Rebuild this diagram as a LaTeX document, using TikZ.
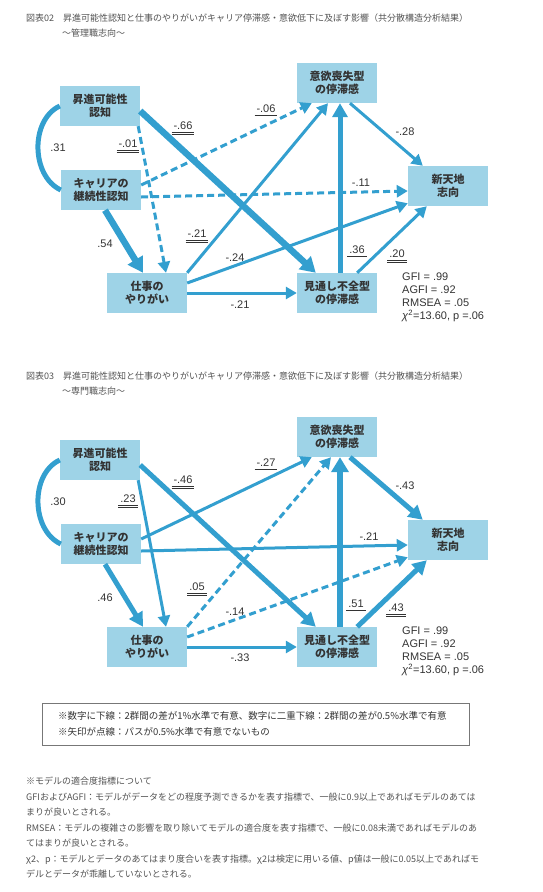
\documentclass[tikz,border=0pt]{standalone}
\usepackage{fontspec}
\setmainfont{Liberation Sans}
\newfontfamily\jp{Noto Sans CJK JP}
\usetikzlibrary{arrows.meta,calc}
\definecolor{SEMBox}{HTML}{9ED3E7}
\definecolor{SEMPath}{HTML}{339FCF}
\definecolor{SEMText}{HTML}{333333}
\definecolor{SEMRule}{HTML}{777777}
\newcommand\ulnum[1]{\underline{\kern2pt#1\vrule width 0pt depth 1.5pt\kern2pt}}
\newcommand\dulnum[1]{\underline{\underline{\kern2pt#1\vrule width 0pt depth 1.5pt\kern2pt}}}

\begin{document}
\begin{tikzpicture}[x=1pt,y=-1pt,
    varbox/.style={fill=SEMBox,minimum width=80pt,minimum height=40pt,inner sep=0pt,
      align=center,text=SEMText,font=\jp\bfseries\fontsize{11}{13}\selectfont},
    coef/.style={anchor=base,inner sep=0pt,text=SEMText,font=\fontsize{11}{13}\selectfont},
    stats/.style={anchor=north west,inner sep=0pt,align=left,text=SEMText,
      font=\fontsize{11}{13}\selectfont},
    pathline/.style={draw=SEMPath,line width=3pt,-{Triangle[length=11pt,width=12pt]}},
    boldline/.style={pathline,line width=5pt,-{Triangle[length=14pt,width=15pt]}},
    heavyline/.style={pathline,line width=6.5pt,-{Triangle[length=15pt,width=17pt]}},
    dashline/.style={pathline,dash pattern=on 7pt off 4pt},
    corrline/.style={draw=SEMPath,line width=5pt},
    titletext/.style={anchor=west,inner sep=0pt,text=SEMText!85,font=\jp\fontsize{9}{11}\selectfont},
    notebox/.style={draw=SEMRule,line width=1pt,minimum width=427pt,minimum height=42pt,
      text width=395pt,inner xsep=16pt,align=left,text=SEMText,font=\jp\fontsize{9.5}{16}\selectfont},
    fitnote/.style={anchor=north west,inner sep=0pt,align=left,text=SEMText!85,
      font=\jp\fontsize{9}{15.5}\selectfont}
  ]
    \path[use as bounding box] (0,0) rectangle (542,892);

    % titles
    \node[titletext] (title1) at (26,18) {図表02　昇進可能性認知と仕事のやりがいがキャリア停滞感・意欲低下に及ぼす影響（共分散構造分析結果）};
    \node[titletext] (sub1) at (62,33) {～管理職志向～};
    \node[titletext] (title2) at (26,376) {図表03　昇進可能性認知と仕事のやりがいがキャリア停滞感・意欲低下に及ぼす影響（共分散構造分析結果）};
    \node[titletext] (sub2) at (62,391) {～専門職志向～};

    % 管理職志向
    \node[varbox] (sho1) at (100,106) {昇進可能性\\認知};
    \node[varbox] (car1) at (101,190) {キャリアの\\継続性認知};
    \node[varbox] (shi1) at (147,293) {仕事の\\やりがい};
    \node[varbox] (iyo1) at (337,83) {意欲喪失型\\の停滞感};
    \node[varbox] (shin1) at (448,186) {新天地\\志向};
    \node[varbox] (mit1) at (337,293) {見通し不全型\\の停滞感};

    \draw[corrline] (sho1.west) to[out=205,in=155] (car1.west);
    \draw[heavyline] ($(sho1.east)+(0,5)$) -- ($(mit1.north west)+(19,0)$);
    \draw[dashline] ($(sho1.south east)+(-2,0)$) -- ($(shi1.north)+(19,0)$);
    \draw[dashline] ($(car1.east)+(0,-5)$) -- ($(iyo1.south west)+(15,0)$);
    \draw[dashline] ($(car1.east)+(0,7)$) -- ($(shin1.west)+(0,5)$);
    \draw[heavyline] ($(car1.south)+(4,0)$) -- ($(shi1.north)+(-4,0)$);
    \draw[pathline] (shi1.north east) -- ($(iyo1.south)+(-9,0)$);
    \draw[pathline] ($(shi1.east)+(0,-10)$) -- ($(shin1.south west)+(0,-3)$);
    \draw[pathline] (shi1.east) -- (mit1.west);
    \draw[boldline] ($(mit1.north)+(3,0)$) -- ($(iyo1.south)+(3,0)$);
    \draw[pathline] ($(mit1.north east)+(-20,0)$) -- ($(shin1.south west)+(19,0)$);
    \draw[pathline] ($(iyo1.south)+(13,0)$) -- ($(shin1.north west)+(15,0)$);

    \node[coef] (k31) at (58,151) {.31};
    \node[coef] (k66) at (183,129) {\dulnum{-.66}};
    \node[coef] (k01) at (128,147) {\dulnum{-.01}};
    \node[coef] (k06) at (266,112) {\ulnum{-.06}};
    \node[coef] (k11) at (361,186) {-.11};
    \node[coef] (k54) at (105,247) {.54};
    \node[coef] (k21a) at (197,237) {\dulnum{-.21}};
    \node[coef] (k24) at (235,261) {-.24};
    \node[coef] (k21b) at (240,308) {-.21};
    \node[coef] (k36) at (357,253) {\ulnum{.36}};
    \node[coef] (k20) at (397,257) {\dulnum{.20}};
    \node[coef] (k28) at (405,135) {-.28};

    \node[stats] (fit1) at (402,273) {GFI = .99\\AGFI = .92\\RMSEA = .05\\ \textit{χ}\textsuperscript{2}=13.60, p =.06};

    % 専門職志向
    \begin{scope}[yshift=-354pt]
    \node[varbox] (sho2) at (100,106) {昇進可能性\\認知};
    \node[varbox] (car2) at (101,190) {キャリアの\\継続性認知};
    \node[varbox] (shi2) at (147,293) {仕事の\\やりがい};
    \node[varbox] (iyo2) at (337,83) {意欲喪失型\\の停滞感};
    \node[varbox] (shin2) at (448,186) {新天地\\志向};
    \node[varbox] (mit2) at (337,293) {見通し不全型\\の停滞感};

    \draw[corrline] (sho2.west) to[out=205,in=155] (car2.west);
    \draw[boldline] ($(sho2.east)+(0,5)$) -- ($(mit2.north west)+(19,0)$);
    \draw[pathline] ($(sho2.south east)+(-2,0)$) -- ($(shi2.north)+(19,0)$);
    \draw[pathline] ($(car2.east)+(0,-5)$) -- ($(iyo2.south west)+(15,0)$);
    \draw[pathline] ($(car2.east)+(0,7)$) -- ($(shin2.west)+(0,5)$);
    \draw[boldline] ($(car2.south)+(4,0)$) -- ($(shi2.north)+(-4,0)$);
    \draw[dashline] (shi2.north east) -- ($(iyo2.south)+(-6,0)$);
    \draw[dashline] ($(shi2.east)+(0,-10)$) -- ($(shin2.south west)+(0,-3)$);
    \draw[pathline] (shi2.east) -- (mit2.west);
    \draw[heavyline] ($(mit2.north)+(3,0)$) -- ($(iyo2.south)+(3,0)$);
    \draw[boldline] ($(mit2.north east)+(-20,0)$) -- ($(shin2.south west)+(19,0)$);
    \draw[boldline] ($(iyo2.south)+(13,0)$) -- ($(shin2.north west)+(15,0)$);

    \node[coef] (m30) at (58,151) {.30};
    \node[coef] (m46a) at (183,129) {\dulnum{-.46}};
    \node[coef] (m23) at (128,148) {\dulnum{.23}};
    \node[coef] (m27) at (266,112) {\ulnum{-.27}};
    \node[coef] (m21) at (369,186) {-.21};
    \node[coef] (m46b) at (105,247) {.46};
    \node[coef] (m05) at (197,236) {\dulnum{.05}};
    \node[coef] (m14) at (235,261) {-.14};
    \node[coef] (m33) at (240,307) {-.33};
    \node[coef] (m51) at (356,253) {\ulnum{.51}};
    \node[coef] (m43a) at (396,257) {\dulnum{.43}};
    \node[coef] (m43b) at (405,135) {-.43};

    \node[stats] (fit2) at (402,273) {GFI = .99\\AGFI = .92\\RMSEA = .05\\ \textit{χ}\textsuperscript{2}=13.60, p =.06};
    \end{scope}

    % notes
    \node[notebox] (legend) at (255.5,724) {※数字に下線：2群間の差が1\%水準で有意、数字に二重下線：2群間の差が0.5\%水準で有意\\※矢印が点線：パスが0.5\%水準で有意でないもの};

    \node[fitnote] (about) at (26,777) {※モデルの適合度指標について\\
      GFIおよびAGFI：モデルがデータをどの程度予測できるかを表す指標で、一般に0.9以上であればモデルのあては\\
      まりが良いとされる。\\
      RMSEA：モデルの複雑さの影響を取り除いてモデルの適合度を表す指標で、一般に0.08未満であればモデルのあ\\
      てはまりが良いとされる。\\
      χ2、p：モデルとデータのあてはまり度合いを表す指標。χ2は検定に用いる値、p値は一般に0.05以上であればモ\\
      デルとデータが乖離していないとされる。};
  \end{tikzpicture}
\end{document}
